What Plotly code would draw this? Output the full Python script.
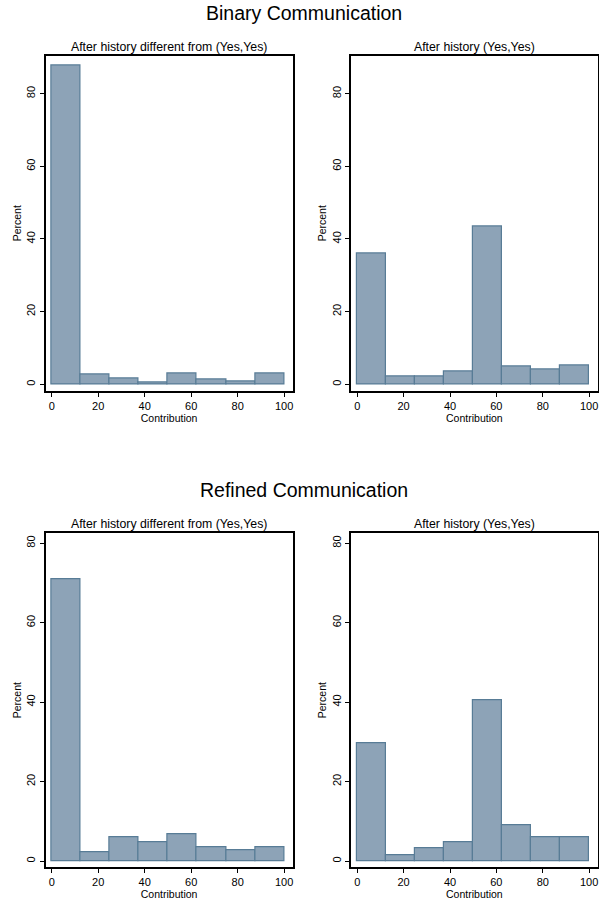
import plotly.graph_objects as go

# ---- data ----
bin_edges = [0, 12.5, 25, 37.5, 50, 62.5, 75, 87.5, 100]
binary_other = [87.8, 2.6, 1.7, 0.5, 3.0, 1.3, 0.9, 3.0]
binary_yesyes = [35.9, 2.1, 2.1, 3.5, 43.4, 4.8, 4.0, 5.2]
refined_other = [70.9, 2.3, 5.9, 4.7, 6.7, 3.5, 2.8, 3.5]
refined_yesyes = [29.6, 1.5, 3.2, 4.8, 40.4, 9.1, 6.0, 6.0]
panel_titles = ["After history different from (Yes,Yes)", "After history (Yes,Yes)"]
group_titles = ["Binary Communication", "Refined Communication"]
x_ticks = [0, 20, 40, 60, 80, 100]
y_ticks = [0, 20, 40, 60, 80]

FONT = "Liberation Sans, Arial, sans-serif"
FILL = "#8DA3B7"
EDGE = "#587C96"

centers = [(bin_edges[i] + bin_edges[i + 1]) / 2 for i in range(len(bin_edges) - 1)]
widths = [bin_edges[i + 1] - bin_edges[i] for i in range(len(bin_edges) - 1)]

W, H = 599, 901
def px_x(a, b):
    return [a / W, b / W]
def px_y(top, bottom):
    return [1 - bottom / H, 1 - top / H]

xdoms = [px_x(45.5, 292.7), px_x(351, 597.7)]
ydoms = [px_y(55.5, 391), px_y(533.3, 867)]
yranges = [[-1.85, 90.5], [-1.5, 82.5]]

series = [[binary_other, binary_yesyes], [refined_other, refined_yesyes]]

fig = go.Figure()
layout = dict(
    width=W, height=H, autosize=False,
    margin=dict(l=0, r=0, t=0, b=0),
    paper_bgcolor="white", plot_bgcolor="white",
    showlegend=False, bargap=0,
    font=dict(family=FONT, color="black", size=11),
)
annotations = []
k = 0
for r in range(2):
    for c in range(2):
        k += 1
        sx = "" if k == 1 else str(k)
        fig.add_trace(go.Bar(
            x=centers, y=series[r][c], width=widths,
            marker=dict(color=FILL, line=dict(color=EDGE, width=1.2)),
            xaxis="x" + sx, yaxis="y" + sx,
        ))
        layout["xaxis" + sx] = dict(
            domain=xdoms[c], range=[-2.7, 103.7], anchor="y" + sx,
            tickvals=x_ticks, ticks="outside", ticklen=4, tickwidth=1, tickcolor="black",
            showline=True, mirror=True, linecolor="black", linewidth=1.6,
            showgrid=False, zeroline=False,
            tickfont=dict(size=11, family=FONT),
            title=dict(text="Contribution", font=dict(size=10.5, family=FONT), standoff=0),
        )
        layout["yaxis" + sx] = dict(
            domain=ydoms[r], range=yranges[r], anchor="x" + sx,
            tickvals=y_ticks, ticks="outside", ticklen=4, tickwidth=1, tickcolor="black",
            tickangle=-90,
            showline=True, mirror=True, linecolor="black", linewidth=1.6,
            showgrid=False, zeroline=False,
            tickfont=dict(size=11, family=FONT),
            title=dict(text="Percent", font=dict(size=10.5, family=FONT), standoff=2),
        )
        annotations.append(dict(
            text=panel_titles[c], xref="paper", yref="paper",
            x=sum(xdoms[c]) / 2, y=ydoms[r][1], yshift=0,
            xanchor="center", yanchor="bottom", showarrow=False,
            font=dict(size=12.3, family=FONT),
        ))
    annotations.append(dict(
        text=group_titles[r], xref="paper", yref="paper",
        x=303.5 / W, y=1 - (13.5 if r == 0 else 490.5) / H,
        xanchor="center", yanchor="middle", showarrow=False,
        font=dict(size=19.5, family=FONT),
    ))
layout["annotations"] = annotations
fig.update_layout(**layout)
fig.write_html(
    "out.html",
    config={"displayModeBar": False},
    post_script="document.body.style.margin='0';document.body.style.padding='0';"
                "document.body.style.overflow='hidden';"
                "document.documentElement.style.overflow='hidden';",
)
